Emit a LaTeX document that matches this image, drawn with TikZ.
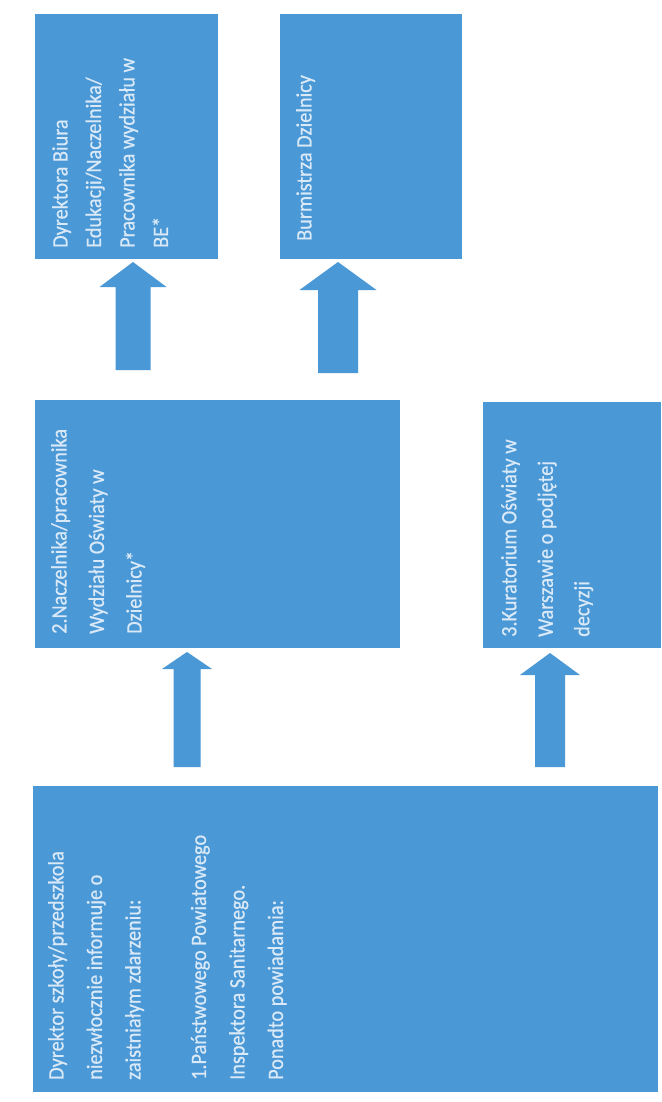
\documentclass[tikz,border=0pt]{standalone}
\usepackage{fontspec}
\setmainfont{Carlito}[FakeStretch=0.92,FakeBold=0.6]
\usetikzlibrary{calc}
\definecolor{boxblue}{RGB}{74,152,214}
\definecolor{txtc}{RGB}{218,233,247}
\newcommand\blkarrow[5]{%
  \fill[arrowfill] ($(#1)+(-#3,0)$) -- ($(#2)+(-#3,-#5)$) -- ($(#2)+(-#4,-#5)$) -- (#2)
    -- ($(#2)+(#4,-#5)$) -- ($(#2)+(#3,-#5)$) -- ($(#1)+(#3,0)$) -- cycle;}
\begin{document}
\begin{tikzpicture}[x=1pt,y=1pt,
  box/.style={fill=boxblue, draw=none, inner sep=0pt, outer sep=0pt, anchor=north west},
  txt/.style={text=txtc, inner sep=0pt, align=left, rotate=90, anchor=north west},
  arrowfill/.style={fill=boxblue}]
\useasboundingbox (0,0) rectangle (661,-1102);
\fill[white] (0,0) rectangle (661,-1102);
% boxes
\node[box, minimum width=183pt, minimum height=245pt] (bA) at (35,-14) {};
\node[box, minimum width=182pt, minimum height=245pt] (bB) at (280,-14) {};
\node[box, minimum width=365pt, minimum height=248pt] (b2) at (35,-400) {};
\node[box, minimum width=178pt, minimum height=246pt] (b3) at (483,-402) {};
\node[box, minimum width=625pt, minimum height=306pt] (b1) at (33,-786) {};
% texts
\node[txt, font=\fontsize{22}{33.5}\selectfont] (tA) at ($(bA.south west)+(17,11)$)
  {Dyrektora Biura\\Edukacji/Naczelnika/\\Pracownika wydziału w\\BE*};
\node[txt, font=\fontsize{22}{36}\selectfont] (tB) at ($(bB.south west)+(16,18)$)
  {Burmistrza Dzielnicy};
\node[txt, font=\fontsize{22}{37.5}\selectfont] (t2) at ($(b2.south west)+(16,14)$)
  {2.Naczelnika/pracownika\\Wydziału Oświaty w\\Dzielnicy*};
\node[txt, font=\fontsize{22}{36.5}\selectfont] (t3) at ($(b3.south west)+(18,11)$)
  {3.Kuratorium Oświaty w\\Warszawie o podjętej\\decyzji};
\node[txt, font=\fontsize{22}{38.5}\selectfont] (t1) at ($(b1.south west)+(15,12)$)
  {Dyrektor szkoły/przedszkola\\niezwłocznie informuje o\\zaistniałym zdarzeniu:\\[27pt]1.Państwowego Powiatowego\\Inspektora Sanitarnego.\\Ponadto powiadamia:};
% arrows
\coordinate (s1) at ($(b2.north west)+(98,30)$);
\coordinate (e1) at ($(s1 |- bA.south)+(0,-3)$);
\coordinate (s2) at ($(b2.north west)+(303,27)$);
\coordinate (e2) at ($(s2 |- bB.south)+(0,-3)$);
\coordinate (s3) at ($(b1.north west)+(154,19)$);
\coordinate (e3) at ($(s3 |- b2.south)+(0,-4)$);
\coordinate (s4) at ($(b1.north west)+(517,19)$);
\coordinate (e4) at ($(s4 |- b3.south)+(0,-5)$);
\blkarrow{s1}{e1}{17.5}{33.5}{25}
\blkarrow{s2}{e2}{20}{38.5}{28}
\blkarrow{s3}{e3}{13.5}{25}{17}
\blkarrow{s4}{e4}{15}{30}{22}
\end{tikzpicture}
\end{document}
